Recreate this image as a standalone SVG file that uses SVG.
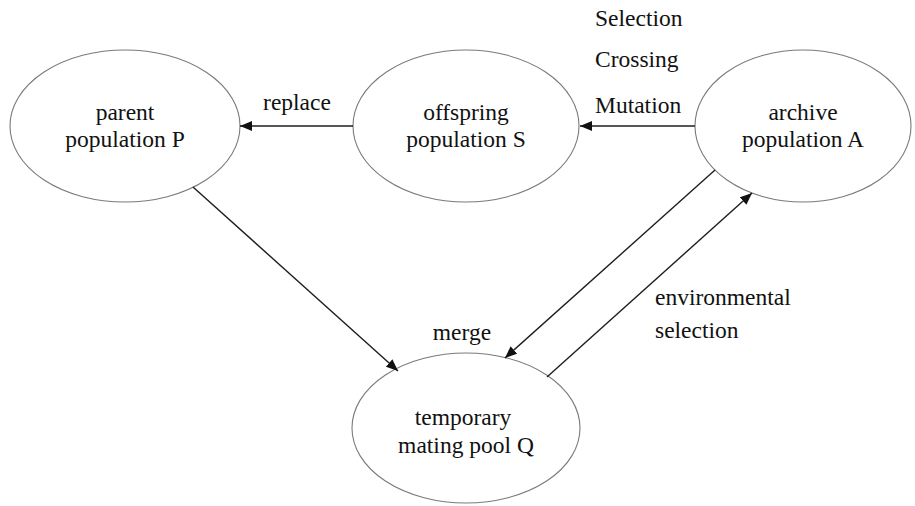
<svg xmlns="http://www.w3.org/2000/svg" width="915" height="506" viewBox="0 0 915 506">
  <style>
    .node { fill: #ffffff; stroke: #7a7a7a; stroke-width: 1.1; }
    .lbl { font-family: "Liberation Serif", "Times New Roman", serif; font-size: 23.5px; fill: #111111; }
    .mid { text-anchor: middle; }
    .edge { fill: none; stroke: #1e1e1e; stroke-width: 1.4; marker-end: url(#arrow); }
  </style>
  <defs>
    <marker id="arrow" viewBox="0 0 12 10" refX="12" refY="5" markerWidth="12" markerHeight="10" markerUnits="userSpaceOnUse" orient="auto">
      <path d="M0,0 L12,5 L0,10 Z" fill="#111111"/>
    </marker>
  </defs>
  <rect width="915" height="506" fill="#ffffff"/>

  <g id="parent">
    <ellipse class="node" cx="125" cy="126" rx="115" ry="76"/>
    <text class="lbl mid" x="125" y="120">parent</text>
    <text class="lbl mid" x="125" y="147">population P</text>
  </g>

  <g id="offspring">
    <ellipse class="node" cx="466" cy="126" rx="113" ry="76"/>
    <text class="lbl mid" x="466" y="120">offspring</text>
    <text class="lbl mid" x="466" y="147">population S</text>
  </g>

  <g id="archive">
    <ellipse class="node" cx="803" cy="126" rx="108" ry="76"/>
    <text class="lbl mid" x="803" y="120">archive</text>
    <text class="lbl mid" x="803" y="147">population A</text>
  </g>

  <g id="pool">
    <ellipse class="node" cx="466" cy="428" rx="114" ry="75"/>
    <text class="lbl mid" x="463" y="425">temporary</text>
    <text class="lbl mid" x="466" y="453">mating pool Q</text>
  </g>

  <g id="connectors">
    <line class="edge" x1="353" y1="126" x2="240" y2="126"/>
    <line class="edge" x1="695" y1="126" x2="580" y2="126"/>
    <line class="edge" x1="193" y1="187" x2="398" y2="371"/>
    <line class="edge" x1="715" y1="170" x2="505" y2="358"/>
    <line class="edge" x1="547" y1="377" x2="752" y2="193"/>
  </g>

  <g id="labels">
    <text class="lbl mid" x="297" y="110">replace</text>
    <text class="lbl" x="595" y="26">Selection</text>
    <text class="lbl" x="595" y="67">Crossing</text>
    <text class="lbl" x="595" y="113">Mutation</text>
    <text class="lbl mid" x="462" y="340">merge</text>
    <text class="lbl" x="655" y="305">environmental</text>
    <text class="lbl" x="655" y="338">selection</text>
  </g>
</svg>
